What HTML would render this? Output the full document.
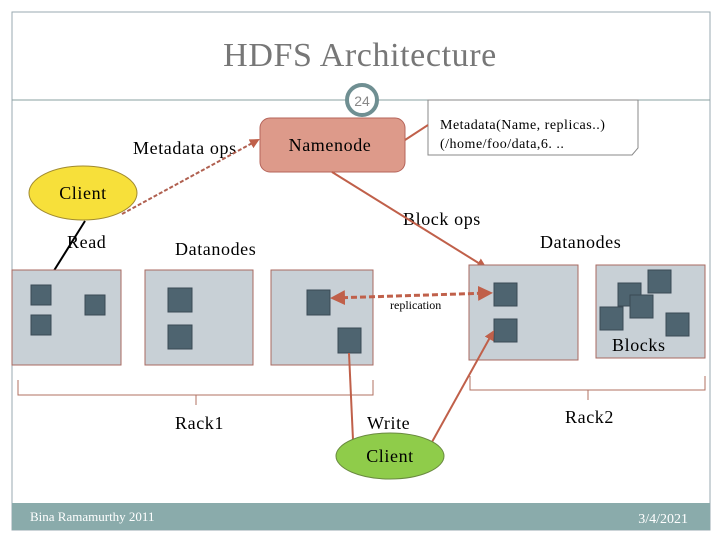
<!DOCTYPE html>
<html><head><style>body{margin:0;background:#fff}svg{display:block}</style></head><body>
<svg width="720" height="540" xmlns="http://www.w3.org/2000/svg" font-family="Liberation Serif, serif">
<defs>
<marker id="a" viewBox="0 0 10 10" refX="8" refY="5" markerWidth="5" markerHeight="5" orient="auto-start-reverse"><path d="M0,0L10,5L0,10z" fill="#c0604a"/></marker>
<marker id="b" viewBox="0 0 10 10" refX="8" refY="5" markerWidth="5" markerHeight="5" orient="auto-start-reverse"><path d="M0,0L10,5L0,10z" fill="#000"/></marker>
</defs>
<rect x="12" y="12" width="698" height="518" fill="#fff" stroke="#9aaab0" stroke-width="1"/>
<text x="360" y="66" text-anchor="middle" font-size="34" letter-spacing="0.6" fill="#777">HDFS Architecture</text>
<line x1="12" y1="100" x2="710" y2="100" stroke="#8aa0a0"/>
<circle cx="362" cy="100" r="15" fill="#fff" stroke="#6f8f92" stroke-width="4"/>
<text x="362" y="106" text-anchor="middle" font-size="14" fill="#888" font-family="Liberation Sans, sans-serif">24</text>
<rect x="260" y="118" width="145" height="54" rx="10" fill="#dd9a8a" stroke="#b5645a"/>
<g font-size="18" letter-spacing="0.6">
<text x="330" y="151" text-anchor="middle">Namenode</text>
<text x="133" y="154">Metadata ops</text>
<text x="83" y="199" text-anchor="middle">Client</text>
<text x="67" y="248">Read</text>
<text x="175" y="255">Datanodes</text>
<text x="403" y="225">Block ops</text>
<text x="540" y="248">Datanodes</text>
<text x="612" y="351">Blocks</text>
<text x="175" y="429">Rack1</text>
<text x="565" y="423">Rack2</text>
<text x="367" y="429">Write</text>
<text x="390" y="462" text-anchor="middle">Client</text>
</g>
<path d="M428 100H638V148L632 155H428Z" fill="#fff" stroke="#888"/>
<text x="440" y="129" font-size="14" letter-spacing="0.5">Metadata(Name, replicas..)</text>
<text x="440" y="148" font-size="14" letter-spacing="0.5">(/home/foo/data,6. ..</text>
<line x1="405" y1="140" x2="428" y2="125" stroke="#c0604a" stroke-width="2"/>
<line x1="122" y1="214" x2="258" y2="140" stroke="#b06050" stroke-width="2" stroke-dasharray="4,2" marker-end="url(#a)"/>
<ellipse cx="83" cy="193" rx="54" ry="27" fill="#f7e03a" stroke="#a08a30"/>
<text x="83" y="199" text-anchor="middle" font-size="18" letter-spacing="0.6">Client</text>
<line x1="85" y1="221" x2="40" y2="293" stroke="#000" stroke-width="2"/>
<line x1="332" y1="172" x2="485" y2="267" stroke="#c0604a" stroke-width="2" marker-end="url(#a)"/>
<g fill="#c8d0d6" stroke="#a86a60">
<rect x="12" y="270" width="109" height="95"/>
<rect x="145" y="270" width="108" height="95"/>
<rect x="271" y="270" width="102" height="95"/>
<rect x="469" y="265" width="109" height="95"/>
<rect x="596" y="265" width="109" height="93"/>
</g>
<g fill="#4e6470" stroke="#3a4a55">
<rect x="31" y="285" width="20" height="20"/>
<rect x="31" y="315" width="20" height="20"/>
<rect x="85" y="295" width="20" height="20"/>
<rect x="168" y="288" width="24" height="24"/>
<rect x="168" y="325" width="24" height="24"/>
<rect x="307" y="290" width="23" height="25"/>
<rect x="338" y="328" width="23" height="25"/>
<rect x="494" y="283" width="23" height="23"/>
<rect x="494" y="319" width="23" height="23"/>
<rect x="648" y="270" width="23" height="23"/>
<rect x="618" y="283" width="23" height="23"/>
<rect x="630" y="295" width="23" height="23"/>
<rect x="600" y="307" width="23" height="23"/>
<rect x="666" y="313" width="23" height="23"/>
</g>
<text x="612" y="351" font-size="18" letter-spacing="0.6">Blocks</text>
<line x1="333" y1="298" x2="490" y2="293" stroke="#c0604a" stroke-width="3" stroke-dasharray="6,3" marker-start="url(#a)" marker-end="url(#a)"/>
<text x="390" y="309" font-size="12">replication</text>
<path d="M18 380V395H373V380M196 395V405" fill="none" stroke="#b07060"/>
<path d="M470 376V390H705V376M588 390V400" fill="none" stroke="#b07060"/>
<line x1="349" y1="353" x2="353" y2="440" stroke="#c0604a" stroke-width="2"/>
<line x1="432" y1="442" x2="493" y2="332" stroke="#c0604a" stroke-width="2" marker-end="url(#a)"/>
<ellipse cx="390" cy="456" rx="54" ry="23" fill="#8fcc4a" stroke="#6a8a40"/>
<text x="390" y="462" text-anchor="middle" font-size="18" letter-spacing="0.6">Client</text>
<rect x="12" y="503" width="698" height="27" fill="#8aabab"/>
<text x="30" y="521" font-size="13" fill="#fff">Bina Ramamurthy 2011</text>
<text x="688" y="523" text-anchor="end" font-size="14" fill="#fff">3/4/2021</text>
</svg>
</body></html>
